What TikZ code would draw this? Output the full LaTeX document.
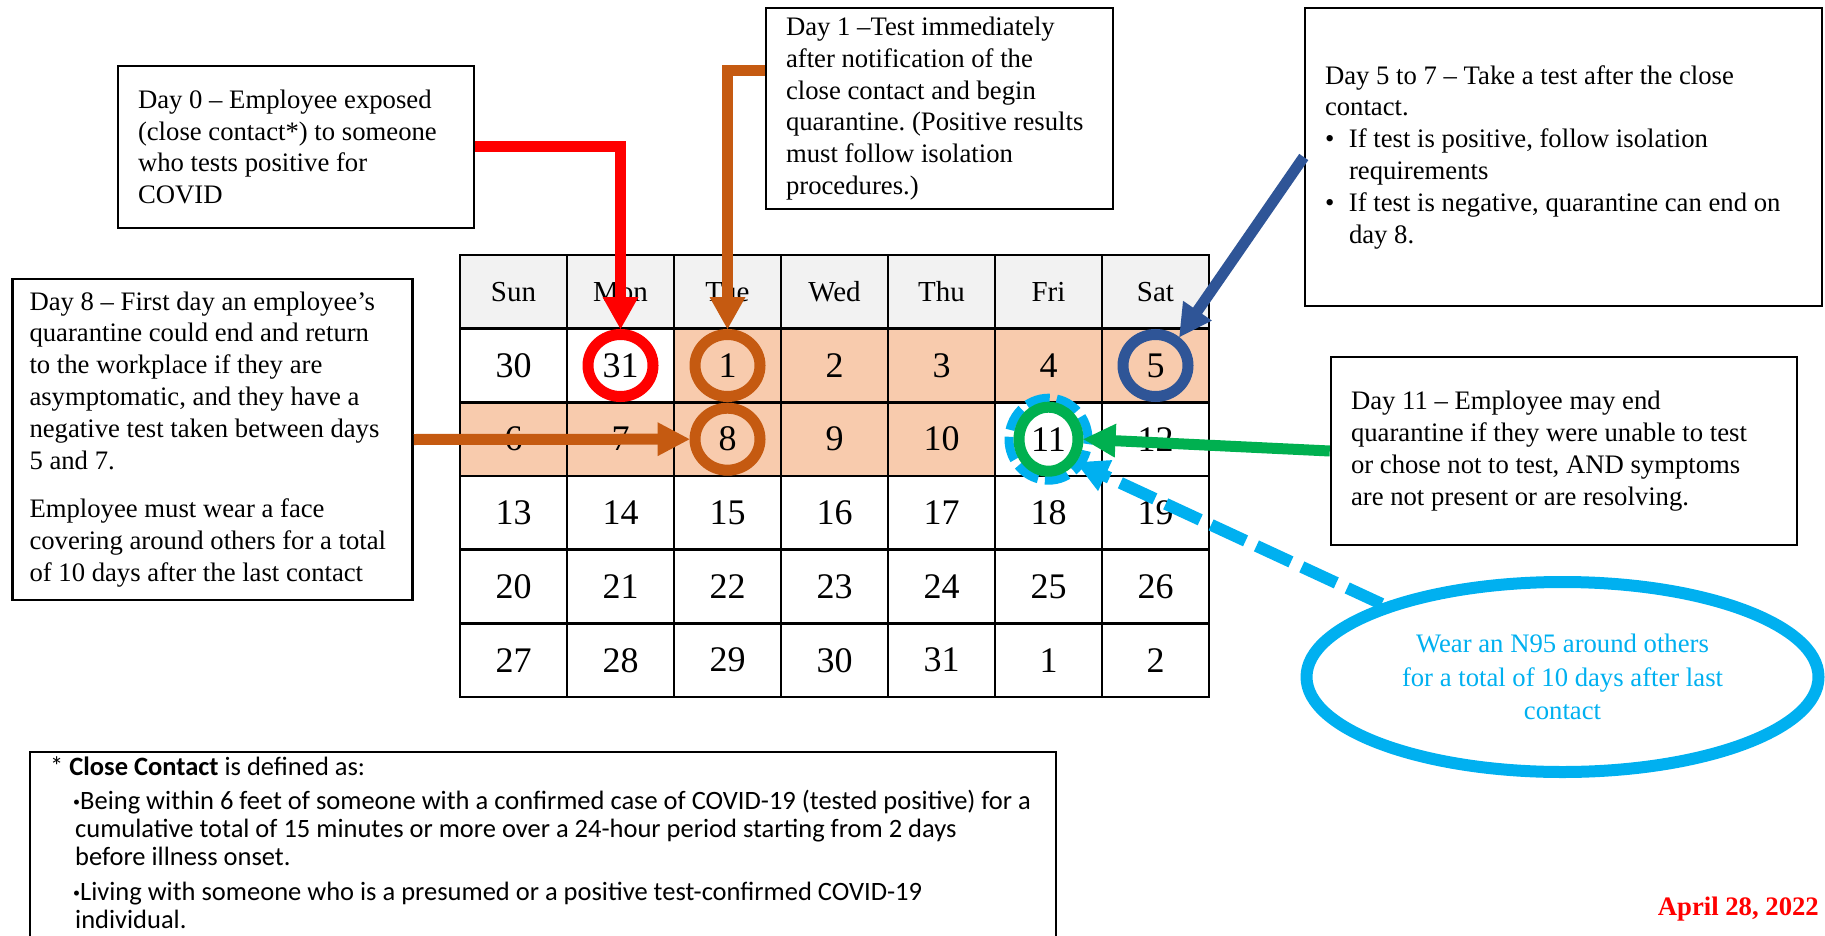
\documentclass[tikz,border=0pt]{standalone}
\usepackage{fontspec}
\setmainfont{Liberation Serif}
\newfontfamily\notefont{Carlito}
\usetikzlibrary{shapes.geometric}
\definecolor{peach}{HTML}{F8CBAD}
\definecolor{headgray}{HTML}{F2F2F2}
\definecolor{rust}{HTML}{C55A11}
\definecolor{navy}{HTML}{2F5597}
\definecolor{leaf}{HTML}{00B050}
\definecolor{sky}{HTML}{00B0F0}
\frenchspacing

\begin{document}
\begin{tikzpicture}[x=1pt,y=-1pt]
\tikzstyle{every node}+=[inner sep=0pt]
\tikzstyle{note}=[draw=black, line width=2.5pt, align=flush left, font=\fontsize{26.7}{31.8}\selectfont]
\tikzstyle{cell}=[draw=black, line width=2.5pt, minimum width=107pt, minimum height=73.67pt, font=\fontsize{36}{40}\selectfont]
\tikzstyle{head}=[cell, fill=headgray, font=\fontsize{29}{32}\selectfont]
\tikzstyle{ring}=[ellipse, line width=11pt, minimum width=65pt, minimum height=62pt]
\tikzstyle{link}=[line width=11pt]
\useasboundingbox (0,0) rectangle (1825,936);
% calendar
\foreach \d [count=\c] in {Sun,Mon,Tue,Wed,Thu,Fri,Sat}
  \node[head] (w0-\c) at ({406.5+107*\c},291.8) {\d};
\foreach \d/\f [count=\c] in {30/white,31/white,1/peach,2/peach,3/peach,4/peach,5/peach}
  \node[cell, fill=\f] (w1-\c) at ({406.5+107*\c},365.5) {\d};
\foreach \d/\f [count=\c] in {6/peach,7/peach,8/peach,9/peach,10/peach,11/white,12/white}
  \node[cell, fill=\f] (w2-\c) at ({406.5+107*\c},439.2) {\d};
\foreach \d [count=\c] in {13,...,19}
  \node[cell, fill=white] (w3-\c) at ({406.5+107*\c},512.8) {\d};
\foreach \d [count=\c] in {20,...,26}
  \node[cell, fill=white] (w4-\c) at ({406.5+107*\c},586.5) {\d};
\foreach \d [count=\c] in {27,28,29,30,31,1,2}
  \node[cell, fill=white] (w5-\c) at ({406.5+107*\c},660.2) {\d};
% marked days
\node[ring, draw=red] (ring31) at (w1-2) {};
\node[ring, draw=rust] (ring1) at (w1-3) {};
\node[ring, draw=rust] (ring8) at (w2-3) {};
\node[ring, draw=navy] (ring5) at (w1-7) {};
\node[ring, draw=sky, line width=9pt, minimum width=79pt, minimum height=82pt, dash pattern=on 24pt off 7pt] (halo11) at (w2-6) {};
\node[ring, draw=leaf, minimum width=59pt, minimum height=64pt] (ring11) at (w2-6) {};
% notes
\node[note, text width=316pt, minimum width=356pt, minimum height=162pt] (day0) at (296,147)
  {Day 0 – Employee exposed\\(close contact*) to someone\\who tests positive for\\COVID};
\node[note, text width=307pt, minimum width=347pt, minimum height=201pt] (day1) at (939.5,108.5)
  {Day 1 –Test immediately\\after notification of the\\close contact and begin\\quarantine. (Positive results\\must follow isolation\\procedures.)};
\node[note, text width=477pt, minimum width=517pt, minimum height=298pt] (day57) at (1563.5,157)
  {Day 5 to 7 – Take a test after the close\\contact.\\
   \makebox[24pt][l]{\textbullet}If test is positive, follow isolation\\\hspace*{24pt}requirements\\
   \makebox[24pt][l]{\textbullet}If test is negative, quarantine can end on\\\hspace*{24pt}day 8.};
\node[note, text width=366pt, minimum width=400pt, minimum height=321pt] (day8) at (212.5,439.5)
  {Day 8 – First day an employee’s\\quarantine could end and return\\to the workplace if they are\\asymptomatic, and they have a\\negative test taken between days\\5 and 7.\\[17pt]
   Employee must wear a face\\covering around others for a total\\of 10 days after the last contact};
\node[note, text width=426pt, minimum width=466pt, minimum height=188pt] (day11) at (1564,451)
  {Day 11 – Employee may end\\quarantine if they were unable to test\\or chose not to test, AND symptoms\\are not present or are resolving.};
\node[ellipse, draw=sky, line width=12pt, minimum width=512pt, minimum height=190pt, text=sky, align=flush center, font=\fontsize{26.7}{33.5}\selectfont] (n95) at (1562.5,677)
  {Wear an N95 around others\\for a total of 10 days after last\\contact};
% connectors
\draw[link, red] (day0.east) -| ([yshift=31pt]ring31.north);
\fill[red] (ring31.north) -- +(-18,-32) -- +(18,-32) -- cycle;
\draw[link, rust] ([yshift=37.5pt]day1.west) -| ([yshift=31pt]ring1.north);
\fill[rust] (ring1.north) -- +(-18,-32) -- +(18,-32) -- cycle;
\draw[link, rust] (day8.east) -- ([xshift=-31pt]ring8.west);
\fill[rust] (ring8.west) -- +(-32,-17) -- +(-32,17) -- cycle;
\draw[link, navy, shorten >=30pt] (day57.west) -- (ring5.50);
\fill[navy] (ring5.50) -- +(32.5,-16.5) -- +(3.7,-36.3) -- cycle;
\draw[link, leaf, shorten >=30pt] (day11.west) -- (ring11.east);
\fill[leaf] (ring11.east) -- +(31.2,18.4) -- +(32.8,-15.6) -- cycle;
\draw[link, sky, line width=12pt, dash pattern=on 38pt off 12pt, shorten >=30pt] (n95.158) -- (ring11.-40);
\fill[sky] (ring11.-40) -- +(22,28.8) -- +(36.2,-2.2) -- cycle;
% footnote
\draw[line width=2.5pt] (30,940) -- (30,752) -- (1056,752) -- (1056,940);
\node[anchor=base west, text width=1000pt, align=flush left, font=\notefont\fontsize{26.5}{28}\selectfont] (ccnote) at (50,775)
  {* \textbf{Close Contact} is defined as:\\[6pt]
   \hspace*{23pt}{\fontsize{14}{14}\selectfont\raisebox{3pt}{•}}Being within 6 feet of someone with a confirmed case of COVID-19 (tested positive) for a\\
   \hspace*{25pt}cumulative total of 15 minutes or more over a 24-hour period starting from 2 days\\
   \hspace*{25pt}before illness onset.\\[7pt]
   \hspace*{23pt}{\fontsize{14}{14}\selectfont\raisebox{3pt}{•}}Living with someone who is a presumed or a positive test-confirmed COVID-19\\
   \hspace*{25pt}individual.};
\node[anchor=base east, text=red, font=\bfseries\fontsize{26.7}{30}\selectfont] (stamp) at (1819,915) {April 28, 2022};
\end{tikzpicture}
\end{document}
